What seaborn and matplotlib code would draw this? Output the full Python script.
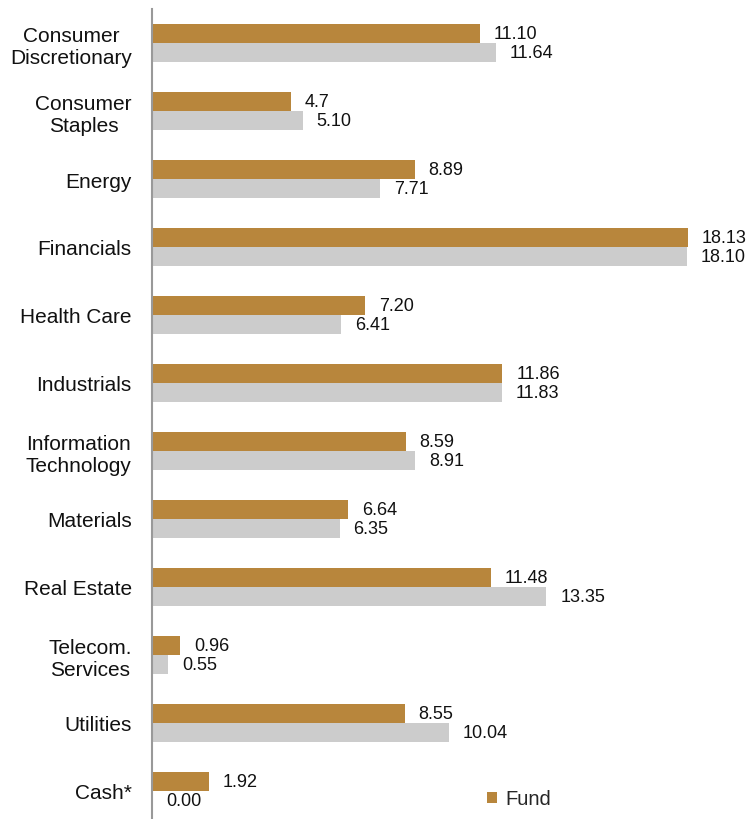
import matplotlib
matplotlib.use("Agg")
import matplotlib.pyplot as plt
from matplotlib.patches import Patch
import seaborn as sns
import pandas as pd

categories = ["Consumer\nDiscretionary", "Consumer\nStaples", "Energy", "Financials",
              "Health Care", "Industrials", "Information\nTechnology", "Materials",
              "Real Estate", "Telecom.\nServices", "Utilities", "Cash*"]
fund_values = [11.10, 4.70, 8.89, 18.13, 7.20, 11.86, 8.59, 6.64, 11.48, 0.96, 8.55, 1.92]
bench_values = [11.64, 5.10, 7.71, 18.10, 6.41, 11.83, 8.91, 6.35, 13.35, 0.55, 10.04, 0.00]
fund_labels = ["11.10", "4.7", "8.89", "18.13", "7.20", "11.86", "8.59", "6.64", "11.48", "0.96", "8.55", "1.92"]
bench_labels = ["11.64", "5.10", "7.71", "18.10", "6.41", "11.83", "8.91", "6.35", "13.35", "0.55", "10.04", "0.00"]
series = ["Fund", "Benchmark"]

df = pd.DataFrame({
    "Sector": categories * 2,
    "Weight": fund_values + bench_values,
    "Series": [series[0]] * len(categories) + [series[1]] * len(categories),
})

sns.set_theme(style="white")
plt.rcParams["font.family"] = ["Liberation Sans", "DejaVu Sans"]

gold = "#B8863C"
gray = "#CCCCCC"

fig = plt.figure(figsize=(7.54, 8.2), dpi=100)
ax = fig.add_axes([152 / 754, -6 / 820, (743 - 152) / 754, (826 - 10) / 820])

sns.barplot(data=df, y="Sector", x="Weight", hue="Series", order=categories,
            hue_order=series, palette=[gold, gray], orient="h", width=0.56,
            saturation=1, linewidth=0, ax=ax, legend=False)

for cont, labs in zip(ax.containers, [fund_labels, bench_labels]):
    ax.bar_label(cont, labels=labs, padding=10, fontsize=13, color="#111111")

ax.set_xlim(0, 20)
ax.set_ylim(len(categories) - 0.5, -0.5)
ax.set_xlabel("")
ax.set_ylabel("")
ax.set_xticks([])
ax.tick_params(axis="y", length=0, pad=14.5, labelsize=15, labelcolor="#111111")
for lab in ax.get_yticklabels():
    lab.set_multialignment("center")
for s in ["top", "right", "bottom"]:
    ax.spines[s].set_visible(False)
ax.spines["left"].set_color("#999999")
ax.spines["left"].set_linewidth(1.5)

fig.legend(handles=[Patch(facecolor=gold, edgecolor="none", label="Fund")],
           loc="center left", bbox_to_anchor=(487 / 754, 1 - 800 / 820), frameon=False,
           fontsize=14.5, handlelength=0.5, handleheight=0.5, handletextpad=0.4,
           borderaxespad=0, borderpad=0)

fig.savefig("out.png", dpi=100)
